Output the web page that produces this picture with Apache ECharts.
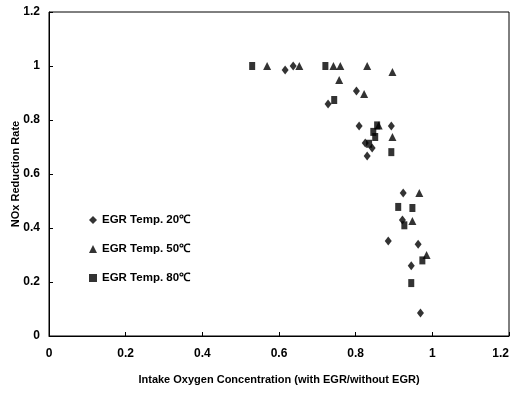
<!DOCTYPE html>
<html><head><meta charset="utf-8">
<script src="https://cdn.jsdelivr.net/npm/echarts@6/dist/echarts.min.js"></script>
<style>html,body{margin:0;padding:0;background:#fff}#c{width:514px;height:399px}</style>
</head><body><div id="c"></div>
<script>
const seriesNames = ['EGR Temp. 20\u2103', 'EGR Temp. 50\u2103', 'EGR Temp. 80\u2103'];
const temp20 = [
  [0.616, 0.985], [0.637, 1.0], [0.728, 0.859], [0.802, 0.907], [0.809, 0.778],
  [0.893, 0.778], [0.825, 0.715], [0.843, 0.696], [0.830, 0.667],
  [0.924, 0.53], [0.922, 0.43], [0.885, 0.352], [0.963, 0.34], [0.945, 0.26], [0.969, 0.085]
];
const temp50 = [
  [0.569, 1.0], [0.653, 1.0], [0.742, 1.0], [0.760, 1.0], [0.830, 1.0], [0.896, 0.978],
  [0.757, 0.948], [0.822, 0.896], [0.896, 0.737], [0.860, 0.78],
  [0.966, 0.53], [0.948, 0.426], [0.985, 0.30]
];
const temp80 = [
  [0.530, 1.0], [0.721, 1.0], [0.744, 0.874], [0.856, 0.78], [0.846, 0.756],
  [0.851, 0.737], [0.835, 0.712], [0.893, 0.681],
  [0.911, 0.478], [0.948, 0.474], [0.927, 0.41], [0.974, 0.28], [0.945, 0.196]
];
const xTicks = { min: 0, max: 1.2, interval: 0.2 };
const yTicks = { min: 0, max: 1.2, interval: 0.2 };

const chart = echarts.init(document.getElementById('c'));
const font = 'Liberation Sans, Arial, sans-serif';
const mk = (name, data, symbol, size) => ({
  name, type: 'scatter', data, symbol, symbolSize: size,
  itemStyle: { color: '#000' }, emphasis: { disabled: true }
});
chart.setOption({
  animation: false,
  backgroundColor: '#fff',
  grid: { left: 49, right: 5, top: 12, bottom: 63, containLabel: false, outerBoundsMode: 'none',
    show: true, borderColor: '#000', borderWidth: 1 },
  legend: {
    orient: 'vertical', left: 89, top: 214, padding: 0, itemGap: 17, itemWidth: 8, itemHeight: 8,
    textStyle: { fontFamily: font, fontSize: 11.5, fontWeight: 'bold', color: '#000' },
    data: [
      { name: seriesNames[0], icon: 'diamond' },
      { name: seriesNames[1], icon: 'triangle' },
      { name: seriesNames[2], icon: 'rect' }
    ]
  },
  xAxis: {
    type: 'value', min: xTicks.min, max: xTicks.max, interval: xTicks.interval,
    name: 'Intake Oxygen Concentration (with EGR/without EGR)', nameLocation: 'middle', nameGap: 38,
    nameMoveOverlap: false,
    nameTextStyle: { fontFamily: font, fontSize: 11, fontWeight: 'bold', color: '#000' },
    axisLine: { onZero: false, lineStyle: { color: '#000', width: 1 } },
    axisTick: { inside: true, length: 4, lineStyle: { color: '#000' } },
    axisLabel: { fontFamily: font, fontSize: 12, fontWeight: 'bold', color: '#000', margin: 12,
      alignMaxLabel: 'right' },
    splitLine: { show: false }
  },
  yAxis: {
    type: 'value', min: yTicks.min, max: yTicks.max, interval: yTicks.interval,
    name: 'NOx Reduction Rate', nameLocation: 'middle', nameGap: 28,
    nameMoveOverlap: false,
    nameTextStyle: { fontFamily: font, fontSize: 11, fontWeight: 'bold', color: '#000' },
    axisLine: { onZero: false, lineStyle: { color: '#000', width: 1 } },
    axisTick: { inside: true, length: 4, lineStyle: { color: '#000' } },
    axisLabel: { fontFamily: font, fontSize: 12, fontWeight: 'bold', color: '#000', margin: 9 },
    splitLine: { show: false }
  },
  series: [
    mk(seriesNames[0], temp20, 'diamond', [7, 9]),
    mk(seriesNames[1], temp50, 'triangle', [8, 8]),
    mk(seriesNames[2], temp80, 'rect', [6, 8])
  ]
});
</script></body></html>
